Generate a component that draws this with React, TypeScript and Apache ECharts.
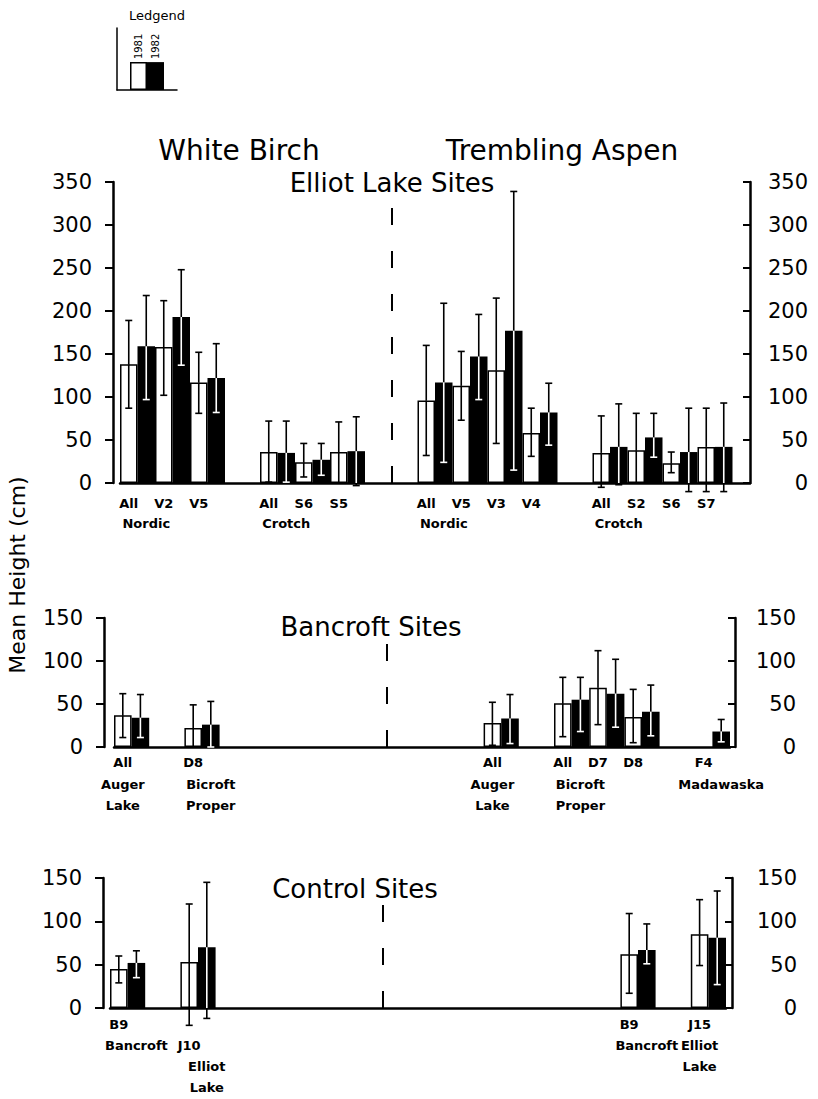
import React, { useEffect, useRef } from 'react';
import * as echarts from 'echarts';

const FONT = '"DejaVu Sans", "Liberation Sans", sans-serif';
const gap = (n: number) => Array(n).fill(null);

// ---------- Elliot Lake Sites (one category = one bar slot) ----------
const elliotLabels = ['All', '\nNordic', 'V2', '', 'V5', '', '', '', 'All', '\nCrotch', 'S6', '', 'S5', '', '', '', '',
  'All', '\nNordic', 'V5', '', 'V3', '', 'V4', '', '', '', 'All', '\nCrotch', 'S2', '', 'S6', '', 'S7', '', ''];
const elliot1981 = [138, null, 158, null, 117, null, null, null, 36, null, 24, null, 36, null, null, null, null,
  96, null, 113, null, 131, null, 58, null, null, null, 35, null, 38, null, 23, null, 42, null, null];
const elliot1982 = [null, 159, null, 193, null, 122, null, null, null, 35, null, 27, null, 37, null, null, null,
  null, 117, null, 147, null, 177, null, 82, null, null, null, 42, null, 53, null, 36, null, 42, null];
const elliotLow = [87, 97, 102, 137, 81, 82, null, null, 1, 1, 7, 9, 0, -3, null, null, null,
  32, 24, 73, 97, 46, 15, 31, 44, null, null, -5, -2, 0, 30, 12, -10, -10, -10, null];
const elliotHigh = [189, 218, 212, 248, 152, 162, null, null, 72, 72, 46, 46, 71, 77, null, null, null,
  160, 209, 153, 196, 215, 339, 87, 116, null, null, 78, 92, 81, 81, 36, 87, 87, 93, null];

// ---------- Bancroft Sites ----------
const bancroftLabels = ['All\nAuger\nLake', '', '', '', 'D8', '\nBicroft\nProper', ...Array(15).fill(''),
  'All\nAuger\nLake', '', '', '', 'All', '\nBicroft\nProper', 'D7', '', 'D8', '', '', '', 'F4', '\nMadawaska'];
const bancroft1981 = [37, null, null, null, 22, null, ...gap(15), 28, null, null, null, 51, null, 69, null, 35, null, null, null, null, null];
const bancroft1982 = [null, 34, null, null, null, 26, ...gap(15), null, 33, null, null, null, 55, null, 62, null, 41, null, null, null, 18];
const bancroftLow = [11, 11, null, null, 0, 0, ...gap(15), 2, 4, null, null, 12, 18, 26, 23, 5, 13, null, null, null, 6];
const bancroftHigh = [62, 61, null, null, 49, 53, ...gap(15), 52, 61, null, null, 81, 81, 112, 102, 67, 72, null, null, null, 32];

// ---------- Control Sites ----------
const controlLabels = ['B9', '\nBancroft', '', '', '\nJ10', '\n\nElliot\nLake', ...Array(23).fill(''),
  'B9', '\nBancroft', '', '', 'J15\nElliot\nLake', ''];
const control1981 = [45, null, null, null, 53, null, ...gap(23), 62, null, null, null, 85, null];
const control1982 = [null, 52, null, null, null, 70, ...gap(23), null, 67, null, null, null, 81];
const controlLow = [29, 35, null, null, -20, -12, ...gap(23), 17, 51, null, null, 49, 27];
const controlHigh = [60, 66, null, null, 120, 145, ...gap(23), 109, 97, null, null, 125, 135];

const legendYears = ['1981', '1982'];
const legendKey = [45, 45];

function errItems(v81: any[], v82: any[], lo: any[], hi: any[]) {
  const out: number[][] = [];
  hi.forEach((h, i) => {
    if (h == null || lo[i] == null) return;
    const dark = v82[i] != null;
    const m = dark ? v82[i] : v81[i];
    if (m == null) return;
    out.push([i, lo[i], h, m, dark ? 1 : 0]);
  });
  return out;
}

function renderErr(_params: any, api: any) {
  const i = api.value(0), lo = api.value(1), hi = api.value(2), m = api.value(3);
  const dark = api.value(4) === 1;
  const pt = api.coord([i, hi]), pm = api.coord([i, m]), pb = api.coord([i, lo]), p0 = api.coord([i, 0]);
  const x = pt[0], c = 3.5;
  const seg = (x1: number, y1: number, x2: number, y2: number, col: string) => ({
    type: 'line', shape: { x1, y1, x2, y2 }, style: { stroke: col, lineWidth: 1.6 },
  });
  const kids: any[] = [seg(x, pm[1], x, pt[1], '#000'), seg(x - c, pt[1], x + c, pt[1], '#000')];
  if (dark) {
    const yIn = lo >= 0 ? pb[1] : p0[1];
    kids.push(seg(x, pm[1], x, yIn, '#fff'));
    if (lo < 0) kids.push(seg(x, p0[1], x, pb[1], '#000'));
    kids.push(seg(x - c, pb[1], x + c, pb[1], lo < 0 ? '#000' : '#fff'));
  } else {
    kids.push(seg(x, pm[1], x, pb[1], '#000'), seg(x - c, pb[1], x + c, pb[1], '#000'));
  }
  return { type: 'group', children: kids };
}

interface PanelCfg {
  grid: { left: number; top: number; width: number; height: number };
  labels: string[]; v81: any[]; v82: any[]; lo: any[]; hi: any[];
  yMax: number; leftOff: number; rightOff: number; labelPad: number; rightMargin: number;
  xMargin: number; xLineHeight: number;
}

function buildPanel(idx: number, p: PanelCfg) {
  const yLabel = {
    fontSize: 21, fontFamily: FONT, color: '#000', verticalAlign: 'middle', padding: [0, 0, p.labelPad, 0],
  };
  const axisLine = { show: true, lineStyle: { color: '#000', width: 2.5 } };
  const grid = { ...p.grid };
  const xAxis = {
    type: 'category', gridIndex: idx, data: p.labels,
    axisLine, axisTick: { show: false }, splitLine: { show: false },
    axisLabel: {
      interval: 0, fontSize: 13, fontWeight: 'bold', fontFamily: FONT, color: '#000',
      lineHeight: p.xLineHeight, margin: p.xMargin,
    },
  };
  const yAxes = [
    {
      type: 'value', gridIndex: idx, position: 'left', offset: p.leftOff, min: 0, max: p.yMax, interval: 50,
      axisLine, axisTick: { show: true, length: 8, lineStyle: { color: '#000', width: 2 } },
      splitLine: { show: false }, axisLabel: { ...yLabel, margin: 21 },
    },
    {
      type: 'value', gridIndex: idx, position: 'right', offset: p.rightOff, min: 0, max: p.yMax, interval: 50,
      axisLine, axisTick: { show: true, inside: true, length: 7, lineStyle: { color: '#000', width: 2 } },
      splitLine: { show: false }, axisLabel: { ...yLabel, align: 'right', margin: p.rightMargin },
    },
  ];
  const series = [
    {
      type: 'bar', name: '1981', xAxisIndex: idx, yAxisIndex: idx * 2, data: p.v81,
      barWidth: '100%', barGap: '-100%',
      itemStyle: { color: '#fff', borderColor: '#000', borderWidth: 1.5 },
      markLine: {
        silent: true, symbol: ['none', 'none'], label: { show: false },
        lineStyle: { color: '#000', type: [17, 26], width: 2 },
        data: [{ xAxis: 15 }],
      },
    },
    {
      type: 'bar', name: '1982', xAxisIndex: idx, yAxisIndex: idx * 2, data: p.v82,
      barWidth: '100%', barGap: '-100%',
      itemStyle: { color: '#000' },
    },
    {
      type: 'custom', xAxisIndex: idx, yAxisIndex: idx * 2, renderItem: renderErr,
      data: errItems(p.v81, p.v82, p.lo, p.hi), z: 5,
    },
  ];
  return { grid, xAxis, yAxes, series };
}

export default function App() {
  const ref = useRef<HTMLDivElement>(null);
  useEffect(() => {
    document.body.style.margin = '0';
    if (!ref.current) return;
    const chart = echarts.init(ref.current, undefined, { renderer: 'svg' });

    const panels = [
      buildPanel(0, {
        grid: { left: 120, top: 182, width: 630, height: 301 },
        labels: elliotLabels, v81: elliot1981, v82: elliot1982, lo: elliotLow, hi: elliotHigh,
        yMax: 350, leftOff: 7, rightOff: 0, labelPad: 16, rightMargin: 58, xMargin: 10, xLineHeight: 20,
      }),
      buildPanel(1, {
        grid: { left: 114, top: 618, width: 616, height: 129 },
        labels: bancroftLabels, v81: bancroft1981, v82: bancroft1982, lo: bancroftLow, hi: bancroftHigh,
        yMax: 150, leftOff: 10, rightOff: 5, labelPad: 8, rightMargin: 61, xMargin: 5, xLineHeight: 21.5,
      }),
      buildPanel(2, {
        grid: { left: 110, top: 878, width: 616, height: 130 },
        labels: controlLabels, v81: control1981, v82: control1982, lo: controlLow, hi: controlHigh,
        yMax: 150, leftOff: 7, rightOff: 6, labelPad: 62, rightMargin: 65, xMargin: 6, xLineHeight: 21,
      }),
    ];

    const thin = { show: true, lineStyle: { color: '#000', width: 1.5 } };
    const legendLabel = {
      show: true, position: 'top', rotate: 90, align: 'left', verticalAlign: 'middle', distance: 3,
      fontSize: 10, fontFamily: FONT, color: '#000', formatter: (p: any) => p.seriesName,
    };

    const option: any = {
      animation: false,
      backgroundColor: '#fff',
      grid: [...panels.map((p) => p.grid), { left: 117, top: 28, width: 60, height: 62 }],
      xAxis: [
        ...panels.map((p) => p.xAxis),
        { type: 'category', gridIndex: 3, data: ['key'], axisLine: thin, axisTick: { show: false }, axisLabel: { show: false } },
      ],
      yAxis: [
        ...panels.flatMap((p) => p.yAxes),
        {
          type: 'value', gridIndex: 3, min: 0, max: 100, axisLine: thin, axisTick: { show: false },
          axisLabel: { show: false }, splitLine: { show: false },
        },
      ],
      series: [
        ...panels.flatMap((p) => p.series),
        {
          type: 'bar', name: legendYears[0], xAxisIndex: 3, yAxisIndex: 6, data: [legendKey[0]], barWidth: 17, barGap: 0,
          itemStyle: { color: '#fff', borderColor: '#000', borderWidth: 1.5 }, label: legendLabel,
        },
        {
          type: 'bar', name: legendYears[1], xAxisIndex: 3, yAxisIndex: 6, data: [legendKey[1]], barWidth: 17, barGap: 0,
          itemStyle: { color: '#000' }, label: legendLabel,
        },
      ],
      graphic: [
        { type: 'text', x: 157, y: 15, style: { text: 'Ledgend', fontSize: 13, fontFamily: FONT, fill: '#000', align: 'center', verticalAlign: 'middle' } },
        { type: 'text', x: 239, y: 150, style: { text: 'White Birch', fontSize: 28, fontFamily: FONT, fill: '#000', align: 'center', verticalAlign: 'middle' } },
        { type: 'text', x: 562, y: 150, style: { text: 'Trembling Aspen', fontSize: 28, fontFamily: FONT, fill: '#000', align: 'center', verticalAlign: 'middle' } },
        { type: 'text', x: 392, y: 183, style: { text: 'Elliot Lake Sites', fontSize: 26, fontFamily: FONT, fill: '#000', align: 'center', verticalAlign: 'middle' } },
        { type: 'text', x: 371, y: 627, style: { text: 'Bancroft Sites', fontSize: 26, fontFamily: FONT, fill: '#000', align: 'center', verticalAlign: 'middle' } },
        { type: 'text', x: 355, y: 889, style: { text: 'Control Sites', fontSize: 26, fontFamily: FONT, fill: '#000', align: 'center', verticalAlign: 'middle' } },
        { type: 'text', x: 17, y: 575, rotation: Math.PI / 2, style: { text: 'Mean Height (cm)', fontSize: 22, fontFamily: FONT, fill: '#000', align: 'center', verticalAlign: 'middle' } },
      ],
    };
    chart.setOption(option);
    return () => chart.dispose();
  }, []);
  return <div ref={ref} style={{ width: 818, height: 1099 }} />;
}
